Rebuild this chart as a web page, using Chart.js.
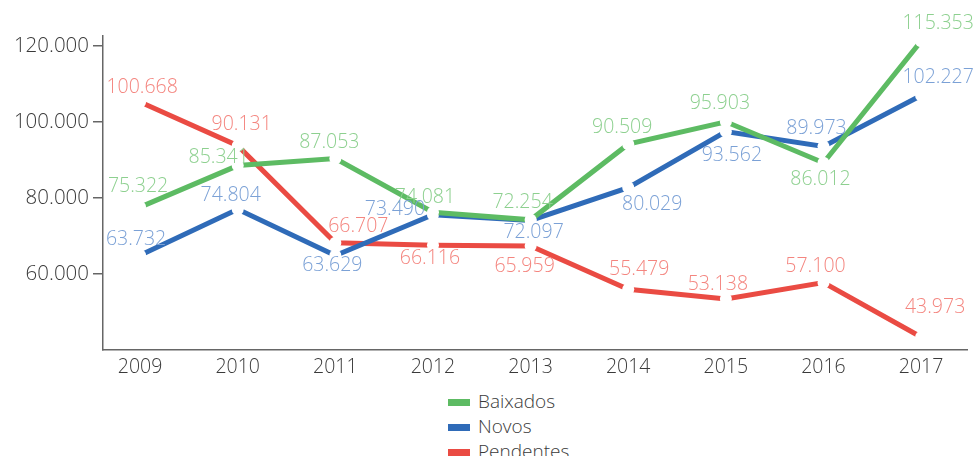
<!DOCTYPE html>
<html>
<head>
<meta charset="utf-8">
<script src="https://cdn.jsdelivr.net/npm/chart.js@4/dist/chart.umd.min.js"></script>
<style>
    body { margin: 0; background: #fff; overflow: hidden; }
    #wrap { position: relative; width: 973px; height: 380px; }
    #legenda { position: absolute; left: 448px; top: 389px; font-family: "Open Sans", sans-serif; font-weight: 300; font-size: 19px; color: #3a3a3a; }
    #legenda div { height: 25px; line-height: 25px; white-space: nowrap; }
    #legenda span { display: inline-block; width: 22px; height: 7px; margin-right: 8px; vertical-align: middle; }
</style>
</head>
<body>
<div id="wrap"><canvas id="graficoProcessos"></canvas></div>
<div id="legenda"></div>
<script>
// dados
const anos = [2009, 2010, 2011, 2012, 2013, 2014, 2015, 2016, 2017];
const baixados = [75322, 85341, 87053, 74081, 72254, 90509, 95903, 86012, 115353];
const novos = [63732, 74804, 63629, 73490, 72097, 80029, 93562, 89973, 102227];
const pendentes = [100668, 90131, 66707, 66116, 65959, 55479, 53138, 57100, 43973];
const yTicks = [60000, 80000, 100000, 120000];

// deslocamento dos rótulos em px (só estilo)
const offBaixados = [[-2, -21], [-19, -8], [-6, -16], [-8, -15], [-8, -17], [-6, -17], [-6, -18], [-3, 17], [17, -18]];
const offNovos = [[-4, -16], [-7, -14], [-3, 10], [-38, -5], [3, 12], [24, 17], [6, 24], [-7, -18], [17, -18]];
const offPendentes = [[2, -15], [4, -21], [23, -16], [-3, 13], [-6, 21], [11, -20], [-8, -15], [-8, -16], [14, -30]];

const fonte = '"Open Sans", sans-serif';

function fmt(v) {
    return String(v).replace(/\B(?=(\d{3})+(?!\d))/g, '.');
}

const series = [
    { label: 'Baixados', data: baixados, cor: '#5dbb63', corTexto: '#8dd08f', off: offBaixados },
    { label: 'Novos', data: novos, cor: '#2f6bb8', corTexto: '#7ba1d6', off: offNovos },
    { label: 'Pendentes', data: pendentes, cor: '#ea4b43', corTexto: '#f4857f', off: offPendentes }
];

// rótulos de valor
const rotulos = {
    id: 'rotulos',
    afterDatasetsDraw(chart) {
        const ctx = chart.ctx;
        ctx.save();
        ctx.font = '300 19.5px ' + fonte;
        ctx.textAlign = 'center';
        ctx.textBaseline = 'middle';
        series.forEach((s, i) => {
            const meta = chart.getDatasetMeta(i);
            ctx.fillStyle = s.corTexto;
            meta.data.forEach((p, j) => {
                ctx.fillText(fmt(s.data[j]), p.x + s.off[j][0], p.y + s.off[j][1]);
            });
        });
        ctx.restore();
    }
};

new Chart(document.getElementById('graficoProcessos'), {
    type: 'line',
    data: {
        datasets: series.map(s => ({
            label: s.label,
            data: s.data.map((v, j) => ({ x: anos[j], y: v })),
            borderColor: s.cor,
            backgroundColor: s.cor,
            borderWidth: 5,
            borderCapStyle: 'butt',
            pointRadius: 6,
            pointBorderWidth: 0,
            pointBackgroundColor: '#fff',
            tension: 0,
            yAxisID: 'yDados'
        }))
    },
    options: {
        responsive: true,
        maintainAspectRatio: false,
        animation: false,
        events: [],
        layout: { padding: { top: 36, right: 6, left: 0, bottom: 0 } },
        plugins: {
            legend: { display: false },
            tooltip: { enabled: false }
        },
        scales: {
            x: {
                type: 'linear',
                min: 2008.62,
                max: 2017.47,
                afterBuildTicks: scale => { scale.ticks = anos.map(a => ({ value: a })); },
                afterFit: scale => { scale.height = 30; },
                grid: { display: false, drawTicks: false },
                border: { display: true, color: '#666', width: 1.5 },
                ticks: {
                    padding: 6,
                    color: '#3a3a3a',
                    font: { family: fonte, size: 19.5, weight: 300 },
                    callback: v => String(v),
                    autoSkip: false,
                    maxRotation: 0
                }
            },
            y: {
                position: 'left',
                min: 40000,
                max: 122632,
                afterBuildTicks: scale => { scale.ticks = yTicks.map(v => ({ value: v })); },
                afterFit: scale => { scale.width = 103; },
                grid: { drawOnChartArea: false, drawTicks: true, tickLength: 10, color: '#666', lineWidth: 1.5 },
                border: { display: true, color: '#666', width: 1.5 },
                ticks: {
                    padding: 4,
                    color: '#3a3a3a',
                    font: { family: fonte, size: 20.5, weight: 300 },
                    callback: v => fmt(v)
                }
            },
            yDados: {
                display: false,
                min: 40850,
                max: 116600
            }
        }
    },
    plugins: [rotulos]
});

// legenda vertical
const leg = document.getElementById('legenda');
series.forEach(s => {
    const linha = document.createElement('div');
    const caixa = document.createElement('span');
    caixa.style.background = s.cor;
    linha.appendChild(caixa);
    linha.appendChild(document.createTextNode(s.label));
    leg.appendChild(linha);
});
</script>
</body>
</html>
